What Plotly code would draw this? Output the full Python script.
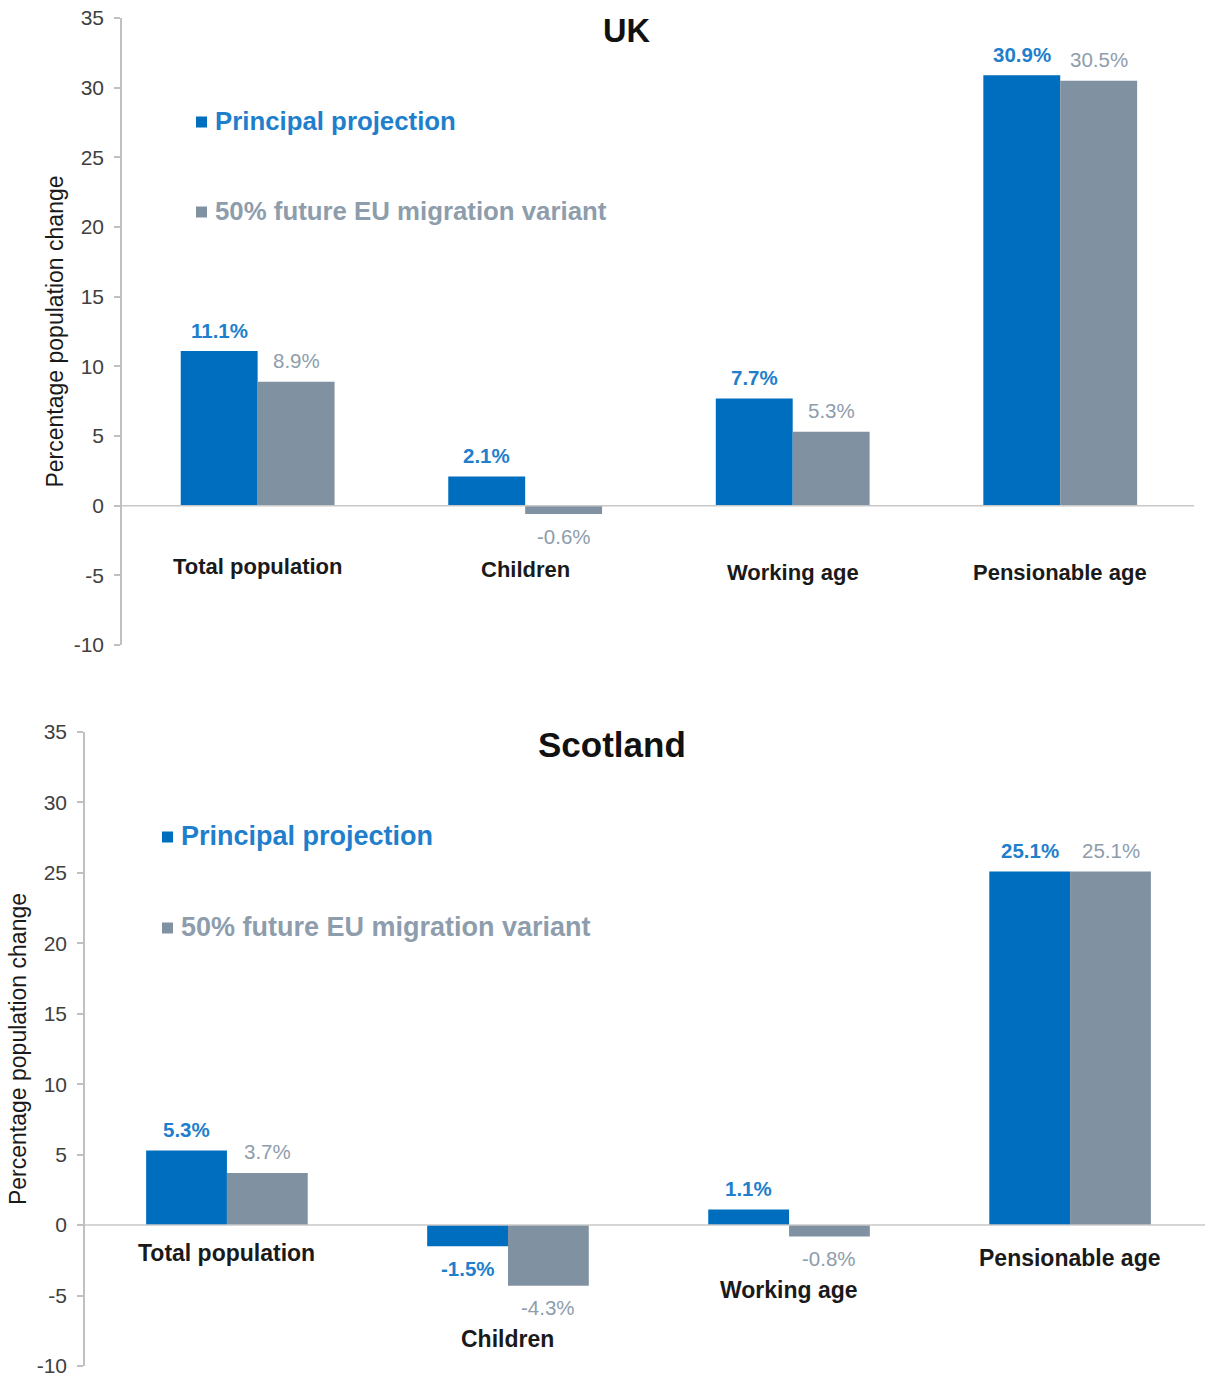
import plotly.graph_objects as go

categories = ["Total population", "Children", "Working age", "Pensionable age"]
uk_principal = [11.1, 2.1, 7.7, 30.9]
uk_variant = [8.9, -0.6, 5.3, 30.5]
sc_principal = [5.3, -1.5, 1.1, 25.1]
sc_variant = [3.7, -4.3, -0.8, 25.1]
# y position (data units) of the category labels in each panel
uk_cat_label_y = [-4.4, -4.6, -4.8, -4.8]
sc_cat_label_y = [-2.0, -8.1, -4.6, -2.3]
y_tick_vals = [-10, -5, 0, 5, 10, 15, 20, 25, 30, 35]
y_tick_text = ["-10", "-5", "0", "5", "10", "15", "20", "25", "30", "35"]

series_names = ["Principal projection", "50% future EU migration variant"]
BLUE = "#006EBE"
GREY = "#8091A2"
BLUE_TXT = "#1F7FCC"
GREY_TXT = "#8E9DAC"
FONT = "Liberation Sans, Arial, sans-serif"

W, H = 1206, 1378
BARGAP = 0.425
BW = (1 - BARGAP) / 2

fig = go.Figure()

panels = [
    dict(title="UK", p=uk_principal, v=uk_variant, cl=uk_cat_label_y, xa="x", ya="y",
         xdom=[122 / W, 1194 / W], ydom=[1 - 645 / H, 1 - 18 / H], xr=[-0.507, 3.5],
         title_xy=(626, 31), title_size=32.5, leg_x=196, leg_y=(121, 211), leg_size=25.8,
         cat_size=22),
    dict(title="Scotland", p=sc_principal, v=sc_variant, cl=sc_cat_label_y, xa="x2", ya="y2",
         xdom=[85 / W, 1205 / W], ydom=[1 - 1366 / H, 1 - 732 / H], xr=[-0.505, 3.48],
         title_xy=(612, 744), title_size=35, leg_x=162, leg_y=(836, 927), leg_size=27,
         cat_size=23),
]

annotations = []
shapes = []
for k, pn in enumerate(panels):
    for s, (vals, col) in enumerate([(pn["p"], BLUE), (pn["v"], GREY)]):
        fig.add_trace(go.Bar(
            x=list(range(len(categories))), y=vals, name=series_names[s],
            marker=dict(color=col, line=dict(width=0)),
            xaxis=pn["xa"], yaxis=pn["ya"], showlegend=False,
        ))
        for i, val in enumerate(vals):
            annotations.append(dict(
                x=i + (s - 0.5) * BW, y=val, xref=pn["xa"], yref=pn["ya"],
                text=f"{val:.1f}%", showarrow=False,
                yshift=21 if val >= 0 else -22, yanchor="middle",
                font=dict(family=FONT, size=20.5, color=BLUE_TXT if s == 0 else GREY_TXT,
                          weight="bold" if s == 0 else "normal"),
            ))
    for i, cat in enumerate(categories):
        annotations.append(dict(
            x=i, y=pn["cl"][i], xref=pn["xa"], yref=pn["ya"], text=cat, showarrow=False,
            yanchor="middle", font=dict(family=FONT, size=pn["cat_size"], color="#1a1a1a",
                                        weight="bold"),
        ))
    # zero line
    shapes.append(dict(type="line", xref=f"{pn['xa']} domain", yref=pn["ya"],
                       x0=0, x1=1, y0=0, y1=0, line=dict(color="#C8C8C8", width=1.5)))
    # title
    tx, ty = pn["title_xy"]
    annotations.append(dict(x=tx / W, y=1 - ty / H, xref="paper", yref="paper",
                            text=pn["title"], showarrow=False, yanchor="middle",
                            font=dict(family=FONT, size=pn["title_size"], color="#111", weight="bold")))
    # legend
    for s, ly in enumerate(pn["leg_y"]):
        col = BLUE if s == 0 else GREY
        tcol = BLUE_TXT if s == 0 else GREY_TXT
        sq = 11
        lx = pn["leg_x"]
        shapes.append(dict(type="rect", xref="paper", yref="paper",
                           x0=lx / W, x1=(lx + sq) / W,
                           y0=1 - (ly + sq / 2 + 1) / H, y1=1 - (ly - sq / 2 + 1) / H,
                           fillcolor=col, line=dict(width=0)))
        annotations.append(dict(x=(lx + sq + 6) / W, y=1 - ly / H, xref="paper", yref="paper",
                                text=series_names[s], showarrow=False, xanchor="left",
                                yanchor="middle",
                                font=dict(family=FONT, size=pn["leg_size"], color=tcol,
                                          weight="bold")))

    axis_common = dict(showgrid=False, zeroline=False, automargin=False)
    fig.layout[("xaxis" if k == 0 else "xaxis2")] = dict(
        domain=pn["xdom"], range=pn["xr"], showticklabels=False, ticks="",
        showline=False, anchor=pn["ya"], fixedrange=True, **axis_common)
    fig.layout[("yaxis" if k == 0 else "yaxis2")] = dict(
        domain=pn["ydom"], range=[-10, 35], tickmode="array",
        tickvals=y_tick_vals, ticktext=y_tick_text, anchor=pn["xa"],
        showline=True, linecolor="#C0C0C0", linewidth=1.5,
        ticks="outside", ticklen=6, tickcolor="#C0C0C0", tickwidth=1.5,
        ticklabelstandoff=6,
        tickfont=dict(family=FONT, size=21, color="#404040"),
        title=dict(text="Percentage population change", standoff=4,
                   font=dict(family=FONT, size=23, color="#1a1a1a")),
        **axis_common)

fig.update_layout(
    width=W, height=H, margin=dict(l=0, r=0, t=0, b=0),
    paper_bgcolor="white", plot_bgcolor="white",
    barmode="group", bargap=BARGAP, bargroupgap=0,
    annotations=annotations, shapes=shapes,
)

fig.write_html("out.html")
